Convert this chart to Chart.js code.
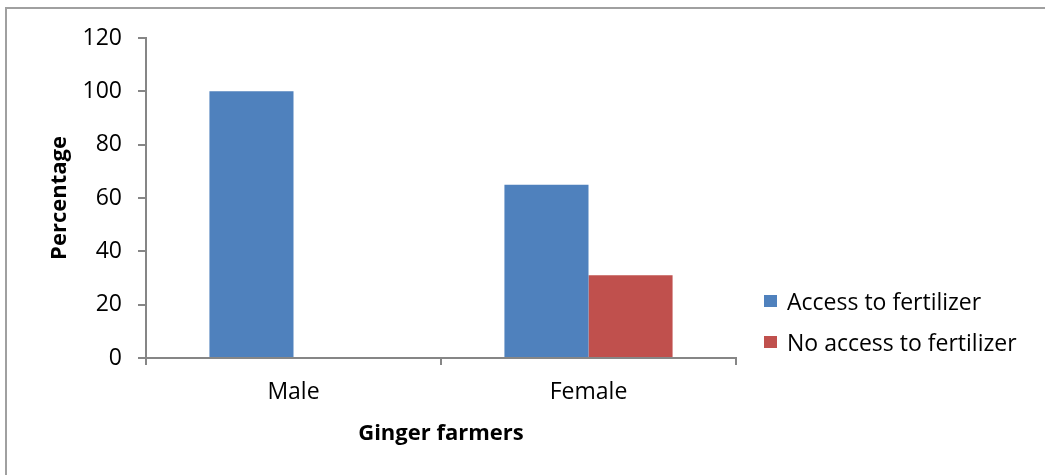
<!DOCTYPE html>
<html>
<head>
<meta charset="utf-8">
<script src="https://cdn.jsdelivr.net/npm/chart.js@4"></script>
<style>
  body { margin: 0; background: #fff; }
  .wrap { position: relative; width: 1045px; height: 475px; overflow: hidden; }
  .frame {
    position: absolute; left: 5px; top: 7px; width: 1100px; height: 520px;
    border: 2px solid #a0a0a0; box-sizing: border-box;
  }
  canvas { position: absolute; left: 0; top: 0; }
  .legend {
    position: absolute; left: 764px; top: 280px;
    font-family: "Open Sans", sans-serif; font-size: 23px; color: #000;
  }
  .legend div { display: flex; align-items: center; height: 41px; }
  .legend span.box { width: 13px; height: 12px; margin-right: 10px; }
</style>
</head>
<body>
<div class="wrap">
  <div class="frame"></div>
  <canvas id="barChart" width="1045" height="475"></canvas>
  <div class="legend" id="legend"></div>
</div>
<script>
const categories = ['Male', 'Female'];
const seriesNames = ['Access to fertilizer', 'No access to fertilizer'];
const accessValues = [100, 65];
const noAccessValues = [0, 31];
const yTicks = [0, 20, 40, 60, 80, 100, 120];
const seriesColors = ['#4F81BD', '#C0504D'];

const axisColor = '#868686';
const fontFamily = '"Open Sans", sans-serif';

const barChart = document.getElementById('barChart');

const chart = new Chart(barChart, {
    type: 'bar',
    data: {
        labels: categories,
        datasets: [
            { label: seriesNames[0], data: accessValues, backgroundColor: seriesColors[0] },
            { label: seriesNames[1], data: noAccessValues, backgroundColor: seriesColors[1] }
        ]
    },
    options: {
        responsive: false,
        animation: false,
        barPercentage: 1,
        categoryPercentage: 0.57,
        layout: { padding: { left: 0, right: 309, top: 38, bottom: 0 } },
        plugins: { legend: { display: false }, tooltip: { enabled: false } },
        scales: {
            x: {
                grid: { drawOnChartArea: false, color: axisColor, tickLength: 7, lineWidth: 2 },
                border: { color: axisColor, width: 2 },
                ticks: { color: '#000', font: { family: fontFamily, size: 23 }, padding: 14 },
                title: {
                    display: true, text: 'Ginger farmers', color: '#000',
                    font: { family: fontFamily, size: 22, weight: 'bold' },
                    padding: { top: 0, bottom: 28 }
                },
                afterFit: s => { s.height = 117; }
            },
            y: {
                min: 0,
                max: 120,
                afterBuildTicks: s => { s.ticks = yTicks.map(v => ({ value: v })); },
                grid: { drawOnChartArea: false, color: axisColor, tickLength: 8, lineWidth: 2 },
                border: { color: axisColor, width: 2 },
                ticks: { color: '#000', font: { family: fontFamily, size: 23 }, padding: 16 },
                title: {
                    display: true, text: 'Percentage', color: '#000',
                    font: { family: fontFamily, size: 22, weight: 'bold' },
                    padding: { top: 47, bottom: 0 }
                },
                afterFit: s => { s.width = 146; }
            }
        }
    }
});

// legend built from the datasets
const legend = document.getElementById('legend');
chart.data.datasets.forEach(ds => {
    const row = document.createElement('div');
    row.innerHTML = '<span class="box" style="background:' + ds.backgroundColor + '"></span>' + ds.label;
    legend.appendChild(row);
});
</script>
</body>
</html>
